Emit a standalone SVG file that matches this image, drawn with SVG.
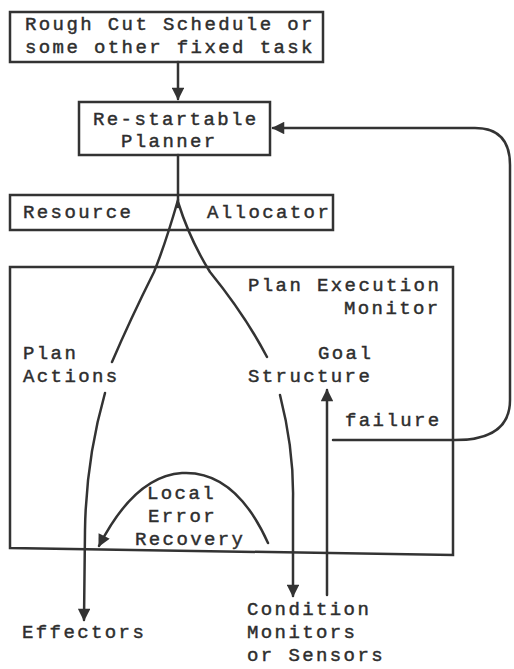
<svg xmlns="http://www.w3.org/2000/svg" width="514" height="669" viewBox="0 0 514 669">
  <style>
    .box { fill: none; stroke: #333; stroke-width: 2.5; }
    .ln { fill: none; stroke: #333; stroke-width: 2.5; stroke-linecap: round; }
    text { font-family: "Liberation Mono", "DejaVu Sans Mono", monospace; font-size: 19px; letter-spacing: 2.4px; fill: #2e2e2e; stroke: #2e2e2e; stroke-width: 0.45px; }
  </style>
  <defs>
    <marker id="ah" viewBox="0 0 10 10" refX="9" refY="5" markerWidth="5.5" markerHeight="5" orient="auto" markerUnits="strokeWidth">
      <path d="M0,0 L10,5 L0,10 z" fill="#333"/>
    </marker>
  </defs>
  <rect width="514" height="669" fill="#fff"/>

  <g id="connectors">
    <!-- task into planner -->
    <path class="ln" d="M178,62 L178,99" marker-end="url(#ah)"/>
    <!-- planner down to the split -->
    <path class="ln" d="M178,155 L178,207"/>
    <!-- left branch to plan actions -->
    <path class="ln" d="M178,200 Q165,245 154,272 Q130,320 112,362"/>
    <!-- right branch to goal structure -->
    <path class="ln" d="M178,202 Q190,240 210,272 Q245,315 267,357"/>
    <!-- plan actions to effectors -->
    <path class="ln" d="M105,393 Q86,460 85,530 L84,620" marker-end="url(#ah)"/>
    <!-- goal structure to condition monitors -->
    <path class="ln" d="M280,395 Q294,450 293,500 L293,596" marker-end="url(#ah)"/>
    <!-- sensors back up to goal structure -->
    <path class="ln" d="M327,595 L327,390" marker-end="url(#ah)"/>
    <!-- local error recovery loop -->
    <path class="ln" d="M268,543 Q235,470 182,473 Q135,476 99,546" marker-end="url(#ah)"/>
    <!-- failure feedback to planner -->
    <path class="ln" d="M333,440 L455,440 Q510,440 510,400 L510,165 Q510,128 475,128 L273,128" marker-end="url(#ah)"/>
  </g>

  <g id="task">
    <rect class="box" x="10" y="12" width="313" height="50"/>
    <text x="25" y="30">Rough Cut Schedule or</text>
    <text x="25" y="53">some other fixed task</text>
  </g>

  <g id="planner">
    <rect class="box" x="79" y="102" width="191" height="53"/>
    <text x="93" y="125">Re-startable</text>
    <text x="121" y="147">Planner</text>
  </g>

  <g id="allocator">
    <rect class="box" x="10" y="195" width="323" height="35"/>
    <text x="23" y="218">Resource</text>
    <text x="207" y="218">Allocator</text>
  </g>

  <g id="monitor">
    <path class="box" d="M10,267 L453,267 L453,555 L10,548 Z"/>
    <text x="248" y="291">Plan Execution</text>
    <text x="344" y="314">Monitor</text>
  </g>

  <g id="plan-actions">
    <text x="23" y="359">Plan</text>
    <text x="23" y="382">Actions</text>
  </g>

  <g id="goal-structure">
    <text x="318" y="359">Goal</text>
    <text x="248" y="382">Structure</text>
  </g>

  <g id="failure">
    <text x="345" y="426">failure</text>
  </g>

  <g id="local-recovery">
    <text x="147" y="499">Local</text>
    <text x="148" y="522">Error</text>
    <text x="135" y="545">Recovery</text>
  </g>

  <g id="effectors">
    <text x="22" y="638">Effectors</text>
  </g>

  <g id="sensors">
    <text x="247" y="615">Condition</text>
    <text x="247" y="638">Monitors</text>
    <text x="247" y="661">or Sensors</text>
  </g>
</svg>
